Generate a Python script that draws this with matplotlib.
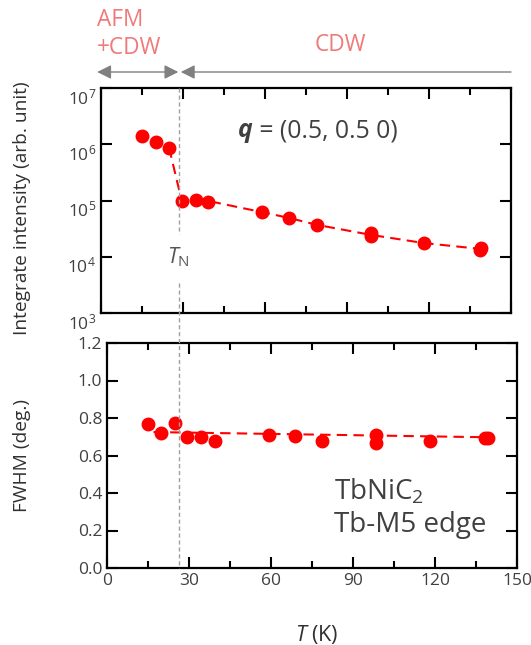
import matplotlib
matplotlib.use("Agg")
import matplotlib.pyplot as plt
import matplotlib.transforms as mtransforms
from matplotlib.lines import Line2D
from matplotlib.ticker import MultipleLocator, LogLocator, NullLocator, FormatStrFormatter

plt.rcParams['font.family'] = 'Open Sans'
plt.rcParams['mathtext.fontset'] = 'custom'
plt.rcParams['mathtext.rm'] = 'Open Sans'
plt.rcParams['mathtext.it'] = 'Open Sans:italic'
plt.rcParams['mathtext.bf'] = 'Open Sans:bold'

# integrated intensity of the q = (0.5, 0.5, 0) peak
temp_int = [14.9, 20.0, 24.9, 29.5, 34.7, 39.3, 59.0, 68.8, 78.9, 98.7, 98.7, 118.2, 138.9, 138.5]
intensity = [1.41e6, 1.1e6, 8.7e5, 9.6e4, 1.04e5, 9.5e4, 6.2e4, 4.9e4, 3.7e4, 2.6e4, 2.3e4, 1.75e4, 1.45e4, 1.3e4]
# guide line through the intensity data
guide_temp = [24.9, 29.5, 39.3, 59.0, 68.8, 78.9, 98.7, 118.2, 138.7]
guide_int = [8.7e5, 1.0e5, 9.8e4, 6.2e4, 4.9e4, 3.7e4, 2.45e4, 1.75e4, 1.38e4]

# peak width
temp_fwhm = [15.0, 19.6, 24.8, 29.4, 34.5, 39.4, 59.2, 68.7, 78.7, 98.3, 98.3, 118.1, 138.2, 139.4]
fwhm = [0.766, 0.721, 0.775, 0.700, 0.700, 0.679, 0.707, 0.704, 0.677, 0.709, 0.668, 0.677, 0.691, 0.695]
fit_temp = [17, 140]
fit_fwhm = [0.725, 0.697]

T_N = 28.6
xticks = [0, 30, 60, 90, 120, 150]

W, H = 531, 645
fig = plt.figure(figsize=(W / 100, H / 100), dpi=100)

def box(l, t, r, b):
  return [l / W, 1 - b / H, (r - l) / W, (b - t) / H]

ax1 = fig.add_axes(box(101, 88, 511, 313))
ax2 = fig.add_axes(box(107, 343, 517, 568))

red = '#ff0000'
txt = '#404040'
lab = '#303030'

for ax in (ax1, ax2):
  ax.set_xlim(0, 150)
  ax.xaxis.set_major_locator(MultipleLocator(30))
  ax.xaxis.set_minor_locator(MultipleLocator(15))
  ax.tick_params(which='both', direction='in', top=True, right=True,
                 width=1.5, colors='black', labelcolor=txt, labelsize=12.5)
  ax.tick_params(which='major', length=8)
  ax.tick_params(which='minor', length=5)
  for s in ax.spines.values():
    s.set_linewidth(1.6)

# top panel
ax1.plot(guide_temp, guide_int, '--', color=red, lw=1.5, dashes=(5, 3))
ax1.plot(temp_int, intensity, 'o', color=red, ms=9, mec=red)
ax1.set_yscale('log')
ax1.set_ylim(1e3, 1e7)
ax1.yaxis.set_major_locator(LogLocator(base=10, numticks=10))
ax1.yaxis.set_minor_locator(NullLocator())
ax1.tick_params(axis='x', labelbottom=False)
ax1.set_ylabel('Integrate intensity (arb. unit)', fontsize=13.8, color=lab)
ax1.yaxis.set_label_coords(-(101 - 22) / 410, 0.465)
ax1.yaxis.label.set_va('center')
shift = mtransforms.ScaledTranslation(0, -8 / 100, fig.dpi_scale_trans)
for t in ax1.get_yticklabels():
  t.set_transform(t.get_transform() + shift)

qtxt = ax1.text(0.334, 0.81, 'q', transform=ax1.transAxes, fontsize=17.8,
                fontweight='bold', fontstyle='italic', color=txt, va='center')
ax1.annotate(' = (0.5, 0.5 0)', xy=(1, 0.5), xycoords=qtxt, fontsize=17.8,
             color=txt, va='center')
ax1.text(T_N - 0.3, 1.0e4, r'$T_\mathregular{N}$', fontsize=15.5, color='#555555',
         ha='center', va='center')

# bottom panel
ax2.plot(fit_temp, fit_fwhm, '--', color=red, lw=1.5, dashes=(5, 3))
ax2.plot(temp_fwhm, fwhm, 'o', color=red, ms=9, mec=red)
ax2.set_ylim(0, 1.2)
ax2.yaxis.set_major_locator(MultipleLocator(0.2))
ax2.yaxis.set_major_formatter(FormatStrFormatter('%.1f'))
ax2.set_xticks(xticks)
ax2.set_ylabel('FWHM (deg.)', fontsize=13.8, color=lab)
ax2.yaxis.set_label_coords(-(107 - 22) / 410, 0.5)
ax2.yaxis.label.set_va('center')
ax2.set_xlabel(r'$T$ (K)', fontsize=15.5, color=lab)
ax2.xaxis.set_label_coords((317 - 107) / 410, -(634 - 568) / 225)
ax2.xaxis.label.set_va('center')
ax2.text(0.554, 0.405, 'TbNiC$_2$\nTb-M5 edge', transform=ax2.transAxes,
         fontsize=20, color=txt, va='top', linespacing=1.2)

# T_N marker line across both panels
blend = mtransforms.blended_transform_factory(ax1.transData, fig.transFigure)
for y0, y1 in [(88, 234), (283, 568)]:
  fig.add_artist(Line2D([T_N, T_N], [1 - y0 / H, 1 - y1 / H], transform=blend,
                        color='#a0a0a0', lw=1, ls=(0, (3, 2))))

# phase arrows
ya = 1 - 72 / H
grey = '#808080'
ax1.annotate('', xy=(-1.4, ya), xytext=(T_N - 0.3, ya), xycoords=blend, textcoords=blend,
             arrowprops=dict(arrowstyle='<|-|>', color=grey, lw=1,
                             mutation_scale=21, shrinkA=0, shrinkB=0))
ax1.annotate('', xy=(T_N + 0.6, ya), xytext=(150, ya), xycoords=blend, textcoords=blend,
             arrowprops=dict(arrowstyle='-|>', color=grey, lw=1,
                             mutation_scale=21, shrinkA=0, shrinkB=0))
pink = '#f07a7a'
fig.text(97 / W, 1 - 8 / H, 'AFM\n+CDW', color=pink, fontsize=16.3, va='top',
         ha='left', linespacing=1.2)
fig.text(340 / W, 1 - 45 / H, 'CDW', color=pink, fontsize=16.3, va='center', ha='center')

fig.savefig('out.png', dpi=100)
